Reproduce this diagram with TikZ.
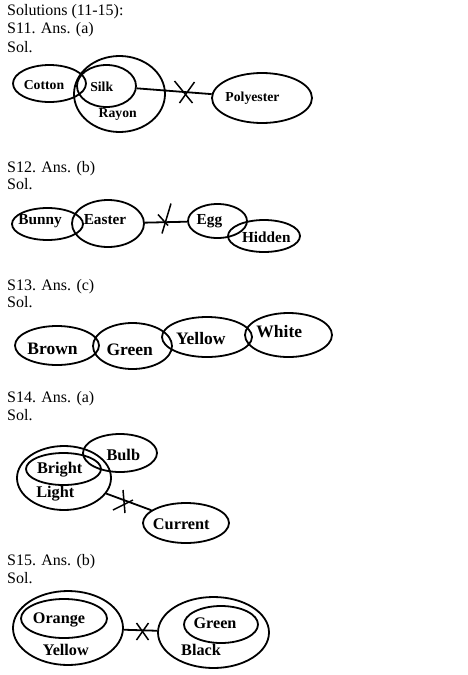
\documentclass[tikz,border=0pt]{standalone}
\usepackage{fontspec}
\setmainfont{Liberation Serif}
\usetikzlibrary{shapes.geometric}
\begin{document}
\begin{tikzpicture}[x=1pt,y=-1pt,
  ell/.style={draw, ellipse, line width=1.8pt, inner sep=0pt},
  hdr/.style={anchor=base west, inner sep=0pt, font=\fontsize{16}{19}\selectfont},
  lab/.style={inner sep=0pt, font=\bfseries\fontsize{#1}{#1}\selectfont},
  con/.style={line width=1.8pt},
  crs/.style={line width=1.5pt}
]
\useasboundingbox (0,0) rectangle (467,675);
\fill[white] (0,0) rectangle (467,675);

% ---- headers
\node[hdr] (h0) at (7,15.7) {Solutions (11-15):};
\node[hdr] (h11) at (7,33.5) {S11. Ans. (a)};
\node[hdr] (s11) at (7,52) {Sol.};
\node[hdr] (h12) at (7,172.5) {S12. Ans. (b)};
\node[hdr] (s12) at (7,189.5) {Sol.};
\node[hdr] (h13) at (7,290.5) {S13. Ans. (c)};
\node[hdr] (s13) at (7,307.5) {Sol.};
\node[hdr] (h14) at (7,402.5) {S14. Ans. (a)};
\node[hdr] (s14) at (7,420.5) {Sol.};
\node[hdr] (h15) at (7,565) {S15. Ans. (b)};
\node[hdr] (s15) at (7,583) {Sol.};

% ---- S11
\node[ell, minimum width=73pt, minimum height=37pt] (cotton) at (49.5,83.5) {};
\node[ell, minimum width=59pt, minimum height=42pt] (silk) at (106.5,86) {};
\node[ell, minimum width=91pt, minimum height=76pt] (rayon) at (119.5,94) {};
\node[ell, minimum width=100pt, minimum height=50pt] (poly) at (262,98) {};
\node[lab=13.7] (tcotton) at (44,84.7) {Cotton};
\node[lab=13.7] (tsilk) at (101.7,87) {Silk};
\node[lab=13.7] (trayon) at (117.7,114) {Rayon};
\node[lab=13.7] (tpoly) at (252.5,98) {Polyester};
\draw[con] (silk) -- (poly);
\coordinate (x11) at (184.5,92);
\draw[crs] (x11) ++(-10,-11) -- ++(18,22);
\draw[crs] (x11) ++(10,-10) -- ++(-15,21);

% ---- S12
\node[ell, minimum width=71pt, minimum height=32pt] (bunny) at (47.5,224) {};
\node[ell, minimum width=72pt, minimum height=47pt] (easter) at (108,223.5) {};
\node[ell, minimum width=59pt, minimum height=34pt] (egg) at (217.5,221) {};
\node[ell, minimum width=72pt, minimum height=32pt] (hidden) at (264,236) {};
\node[lab=15.3] (tbunny) at (40,221) {Bunny};
\node[lab=15.3] (teaster) at (105,219.7) {Easter};
\node[lab=15.3] (tegg) at (209.5,221.3) {Egg};
\node[lab=15.3] (thidden) at (266.3,237) {Hidden};
\draw[con] (easter) -- (egg);
\coordinate (x12) at (165,222.5);
\draw[crs] (x12) ++(6,-19) -- ++(-9,30);
\draw[crs] (x12) ++(-7,-8) -- ++(10,11);

% ---- S13
\node[ell, minimum width=84pt, minimum height=39pt] (brown) at (57,345.5) {};
\node[ell, minimum width=79pt, minimum height=46pt] (green) at (132.5,346) {};
\node[ell, minimum width=90pt, minimum height=40pt] (yellow) at (207,337) {};
\node[ell, minimum width=87pt, minimum height=44pt] (white) at (288.5,335) {};
\node[lab=17.5] (tbrown) at (52.5,348.9) {Brown};
\node[lab=17.5] (tgreen) at (129.7,350) {Green};
\node[lab=17.5] (tyellow) at (200.8,338.8) {Yellow};
\node[lab=17.5] (twhite) at (279.3,331.5) {White};

% ---- S14
\node[ell, minimum width=94pt, minimum height=64pt] (light) at (64,478) {};
\node[ell, minimum width=75pt, minimum height=32pt] (bright) at (63.5,469) {};
\node[ell, minimum width=74pt, minimum height=38pt] (bulb) at (120,453) {};
\node[ell, minimum width=86pt, minimum height=40pt] (current) at (186,523) {};
\node[lab=16.3] (tbright) at (59.7,470) {Bright};
\node[lab=16.3] (tlight) at (55.3,493.3) {Light};
\node[lab=16.3] (tbulb) at (123.3,455) {Bulb};
\node[lab=16.3] (tcurrent) at (181.3,524.5) {Current};
\draw[con] (light) -- (current);
\coordinate (x14) at (124,502);
\draw[crs] (x14) ++(-1,-12) -- ++(2,23);
\draw[crs] (x14) ++(-11,8) -- ++(20,-10);

% ---- S15
\node[ell, minimum width=110pt, minimum height=74pt] (yel) at (68,628) {};
\node[ell, minimum width=86pt, minimum height=39pt] (orange) at (64,618.5) {};
\node[ell, minimum width=111pt, minimum height=71pt] (black) at (213.5,632.5) {};
\node[ell, minimum width=74pt, minimum height=37pt] (grn) at (221,624.5) {};
\node[lab=16.2] (torange) at (59,620.2) {Orange};
\node[lab=16.2] (tyel) at (65.8,650) {Yellow};
\node[lab=16.2] (tgrn) at (215,623) {Green};
\node[lab=16.2] (tblack) at (201,650) {Black};
\draw[con] (yel) -- (black);
\coordinate (x15) at (142.5,631.5);
\draw[crs] (x15) ++(-6,-8.5) -- ++(12,17);
\draw[crs] (x15) ++(6,-8.5) -- ++(-12,17);
\end{tikzpicture}
\end{document}
